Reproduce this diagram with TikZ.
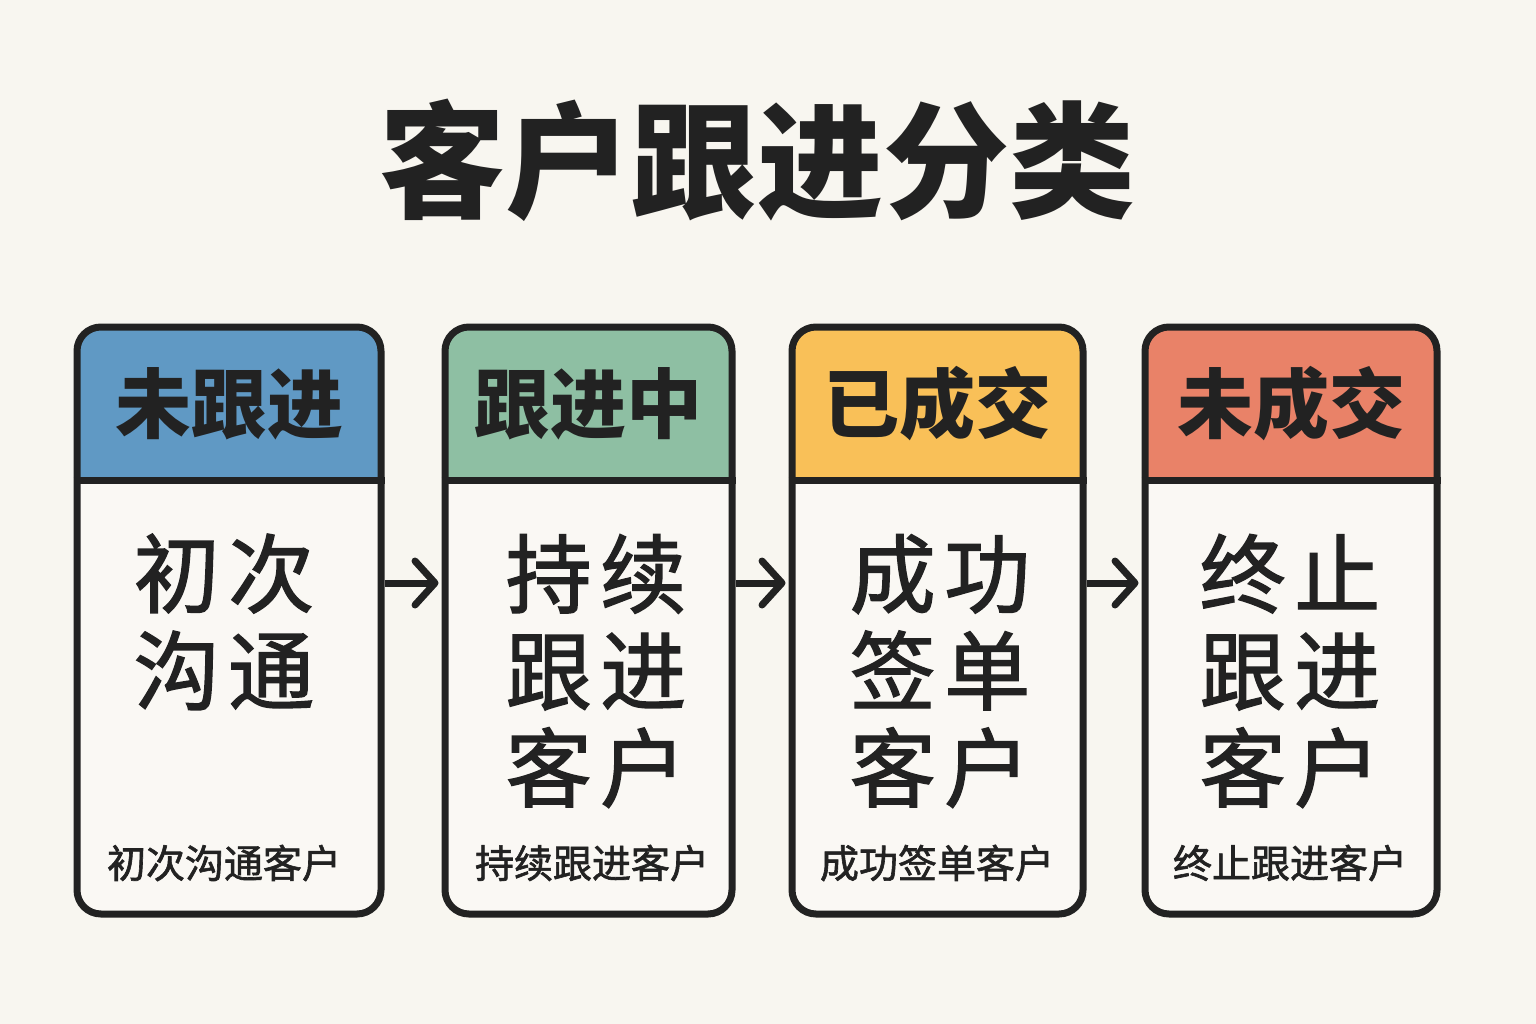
\documentclass[tikz,border=0pt]{standalone}
\usepackage{fontspec}
\newfontfamily\cjk{Noto Sans CJK SC}
\newfontfamily\cjkmed[FakeBold=1.6]{Noto Sans CJK SC}
\newfontfamily\cjkbody[FakeBold=1.6,LetterSpace=10]{Noto Sans CJK SC}
\usetikzlibrary{arrows.meta}
\definecolor{bg}{RGB}{248,246,240}
\definecolor{cardbg}{RGB}{250,248,244}
\definecolor{ink}{RGB}{34,34,34}
\definecolor{cblue}{RGB}{96,153,196}
\definecolor{cgreen}{RGB}{142,191,163}
\definecolor{cyellow}{RGB}{249,192,88}
\definecolor{corange}{RGB}{233,130,104}
\tikzset{
  card/.style={draw=ink, line width=7pt, rounded corners=24pt, inner sep=0pt, minimum height=587pt},
  divider/.style={draw=ink, line width=7pt},
  hdr/.style={font=\cjk\bfseries\fontsize{76}{76}\selectfont, text=ink, inner sep=0pt},
  body/.style={font=\cjkbody\fontsize{86}{97}\selectfont, text=ink, align=center, inner sep=0pt},
  foot/.style={font=\cjkmed\fontsize{39}{39}\selectfont, text=ink, inner sep=0pt},
  ttl/.style={font=\cjk\bfseries\fontsize{126}{126}\selectfont, text=ink, inner sep=0pt},
  flow/.style={draw=ink, line width=7pt, -{Straight Barb[length=20pt, width=44pt, line width=7pt, round]}, shorten >=3pt},
}
\begin{document}
\begin{tikzpicture}[x=1pt,y=-1pt]
\fill[bg] (0,0) rectangle (1536,1024);
\useasboundingbox (0,0) rectangle (1536,1024);
\coordinate (dv) at (0,480);
\coordinate (ay) at (0,583);
\node[ttl] (title) at (757,160) {客户跟进分类};
% card fills
\foreach \xa/\xb/\hc in {77/381/cblue, 445/732/cgreen, 792/1083/cyellow, 1145/1437/corange}{
  \fill[cardbg, rounded corners=24pt] (\xa,327) rectangle (\xb,914);
  \fill[\hc, rounded corners=24pt] (\xa,327) rectangle (\xb,480);
  \fill[\hc] (\xa,420) rectangle (\xb,480);
}
\node[card, minimum width=304pt] (b1) at (229,620.5) {};
\node[card, minimum width=287pt] (b2) at (588.5,620.5) {};
\node[card, minimum width=291pt] (b3) at (937.5,620.5) {};
\node[card, minimum width=292pt] (b4) at (1291,620.5) {};
\foreach \b in {b1,b2,b3,b4}{
  \draw[divider] (\b.west |- dv) -- (\b.east |- dv);
}
\node[hdr] (h1) at (229,404) {未跟进};
\node[hdr] (h2) at (588.5,404) {跟进中};
\node[hdr] (h3) at (937.5,404) {已成交};
\node[hdr] (h4) at (1291,404) {未成交};
\node[body] (t1) at (224,622) {初次\\沟通};
\node[body] (t2) at (596,671) {持续\\跟进\\客户};
\node[body] (t3) at (940,671) {成功\\签单\\客户};
\node[body] (t4) at (1290,671) {终止\\跟进\\客户};
\node[foot] (f1) at (224,863) {初次沟通客户};
\node[foot] (f2) at (592,863) {持续跟进客户};
\node[foot] (f3) at (937,863) {成功签单客户};
\node[foot] (f4) at (1290,863) {终止跟进客户};
\draw[flow] (b1.east |- ay) -- (b2.west |- ay);
\draw[flow] (b2.east |- ay) -- (b3.west |- ay);
\draw[flow] (b3.east |- ay) -- (b4.west |- ay);
\end{tikzpicture}
\end{document}
